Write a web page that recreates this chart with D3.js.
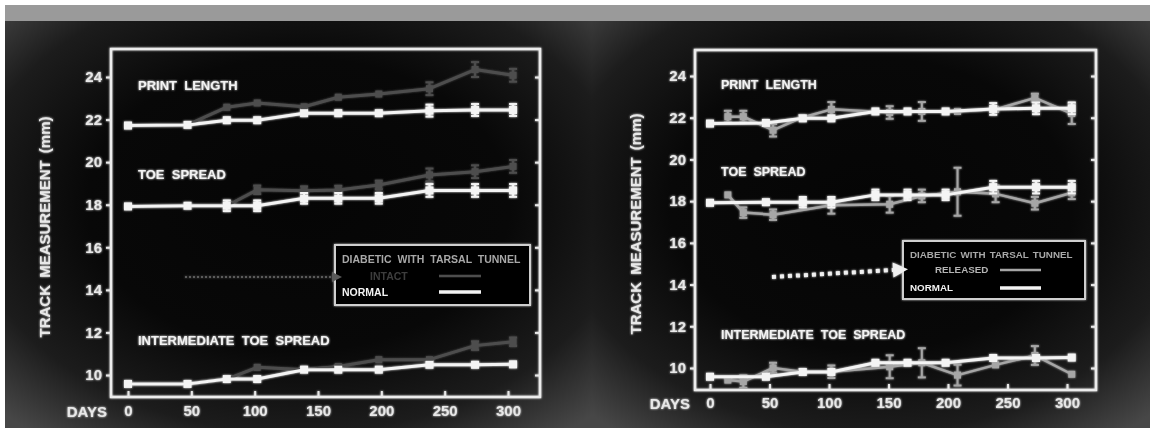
<!DOCTYPE html>
<html>
<head>
<meta charset="utf-8">
<script src="https://cdn.jsdelivr.net/npm/d3@7/dist/d3.min.js"></script>
<style>
  html, body { margin: 0; padding: 0; background: #ffffff; }
  svg { display: block; font-family: "Liberation Sans", Arial, sans-serif; font-weight: bold; }
</style>
</head>
<body>
<div id="chart"></div>
<script>
// ---- data ----
const yTicks = [10, 12, 14, 16, 18, 20, 22, 24];
const xTicks = [0, 50, 100, 150, 200, 250, 300];

// normal animals (same set on both slides)
const normalDays = [0, 47, 78, 102, 139, 166, 198, 238, 274, 304];
const normalPrintLength = [21.72, 21.75, 21.97, 21.97, 22.3, 22.3, 22.3, 22.42, 22.45, 22.45];
const normalPrintLengthErr = [0, 0, 0, 0, 0, 0, 0, 0.28, 0.28, 0.28];
const normalToeSpread = [17.92, 17.95, 17.95, 17.95, 18.3, 18.3, 18.3, 18.67, 18.67, 18.67];
const normalToeSpreadErr = [0, 0, 0.25, 0.25, 0.25, 0.25, 0.25, 0.3, 0.3, 0.3];
const normalInterToe = [9.58, 9.58, 9.81, 9.81, 10.25, 10.25, 10.25, 10.48, 10.48, 10.5];
const normalInterToeErr = [0, 0, 0, 0, 0, 0, 0, 0, 0, 0];

// diabetic, tarsal tunnel intact (left slide)
const intactDays = [0, 47, 78, 102, 139, 166, 198, 238, 274, 304];
const intactPrintLength = [21.72, 21.75, 22.58, 22.78, 22.6, 23.05, 23.2, 23.45, 24.35, 24.08];
const intactPrintLengthErr = [0, 0, 0, 0, 0, 0, 0, 0.3, 0.35, 0.3];
const intactToeSpread = [17.92, 17.95, 17.95, 18.7, 18.66, 18.69, 18.93, 19.4, 19.55, 19.8];
const intactToeSpreadErr = [0, 0, 0, 0.2, 0.2, 0.2, 0.2, 0.3, 0.3, 0.3];
const intactInterToe = [9.58, 9.58, 9.81, 10.36, 10.25, 10.4, 10.72, 10.72, 11.38, 11.56];
const intactInterToeErr = [0, 0, 0, 0, 0, 0, 0, 0, 0.2, 0.2];

// diabetic, tarsal tunnel released (right slide)
const releasedDays = [15, 28, 53, 77, 102, 151, 178, 208, 240, 273, 304];
const releasedPrintLength = [22.05, 22.05, 21.4, 22.0, 22.4, 22.25, 22.3, 22.3, 22.4, 22.95, 22.2];
const releasedPrintLengthErr = [0.28, 0.28, 0.3, 0, 0.35, 0.3, 0.45, 0, 0, 0.2, 0.5];
const releasedToeDays = [15, 28, 53, 102, 151, 178, 208, 240, 273, 304];
const releasedToeSpread = [18.3, 17.45, 17.35, 17.8, 17.85, 18.25, 18.45, 18.35, 17.9, 18.4];
const releasedToeSpreadErr = [0, 0.25, 0.25, 0.4, 0.4, 0.3, 1.15, 0.4, 0.3, 0.3];
const releasedInterToe = [9.42, 9.35, 10.0, 9.82, 9.82, 10.06, 10.25, 9.66, 10.15, 10.6, 9.7];
const releasedInterToeErr = [0, 0.3, 0.25, 0, 0.3, 0.55, 0.7, 0.5, 0, 0.45, 0];

const measureLabels = ['PRINT  LENGTH', 'TOE  SPREAD', 'INTERMEDIATE  TOE  SPREAD'];
const measureLabelY = [23.6, 19.4, 11.6];

const zip = (days, vals, errs) => days.map((d, i) => ({day: d, v: vals[i], e: errs[i]}));

const W = 1156, H = 432;
const svg = d3.select('#chart').append('svg').attr('width', W).attr('height', H);
const defs = svg.append('defs');

const glow = defs.append('filter').attr('id', 'glow')
  .attr('x', '-10%').attr('y', '-10%').attr('width', '120%').attr('height', '120%');
glow.append('feGaussianBlur').attr('in', 'SourceGraphic').attr('stdDeviation', 1.3).attr('result', 'b');
const gm = glow.append('feMerge');
gm.append('feMergeNode').attr('in', 'b');
gm.append('feMergeNode').attr('in', 'SourceGraphic');

const vig = defs.append('radialGradient').attr('id', 'vignette')
  .attr('cx', '50%').attr('cy', '45%').attr('r', '72%');
[[0, '#050505'], [0.5, '#080808'], [0.78, '#1c1c1c'], [1, '#474747']]
  .forEach(s => vig.append('stop').attr('offset', s[0]).attr('stop-color', s[1]));

// slide frame: white page, grey strip on top
svg.append('rect').attr('x', 5).attr('y', 5).attr('width', 1145).attr('height', 16).style('fill', '#9a9a9a');

function drawPanel(p) {
  const g = svg.append('g').attr('class', 'panel');
  g.append('rect').attr('x', p.bg[0]).attr('y', p.bg[1]).attr('width', p.bg[2]).attr('height', p.bg[3])
    .style('fill', 'url(#vignette)');

  const x = d3.scaleLinear().domain([0, 300]).range(p.xRange);
  const y = d3.scaleLinear().domain([10, 24]).range(p.yRange);
  const f = p.frame;
  const plot = g.append('g').style('filter', 'url(#glow)');

  plot.append('rect').attr('x', f.x0).attr('y', f.y0).attr('width', f.x1 - f.x0).attr('height', f.y1 - f.y0)
    .style('fill', 'none').style('stroke', '#ececec').style('stroke-width', 2.5);

  const yAxis = plot.append('g').attr('transform', 'translate(' + [f.x0, 0] + ')')
    .call(d3.axisLeft(y).tickValues(yTicks).tickSize(5).tickPadding(4));
  const yAxisR = plot.append('g').attr('transform', 'translate(' + [f.x1, 0] + ')')
    .call(d3.axisRight(y).tickValues(yTicks).tickSize(-5).tickFormat(''));
  const xAxis = plot.append('g').attr('transform', 'translate(' + [0, f.y1] + ')')
    .call(d3.axisBottom(x).tickValues(xTicks).tickSize(-6).tickPadding(p.xPad));
  [yAxis, yAxisR, xAxis].forEach(a => {
    a.select('.domain').remove();
    a.selectAll('line').style('stroke', '#e8e8e8').style('stroke-width', 2);
    a.selectAll('text').style('fill', '#e8e8e8').style('font-size', '15px').style('font-weight', 'bold');
  });

  plot.append('text').attr('x', p.daysX).attr('y', f.y1).attr('dy', p.xPad + 11.5)
    .attr('text-anchor', 'end').style('fill', '#e8e8e8').style('font-size', '15px').text('DAYS');

  plot.append('text')
    .attr('transform', 'translate(' + [p.titleX, p.titleY] + ') rotate(-90)')
    .attr('text-anchor', 'middle').style('fill', '#e8e8e8').style('font-size', '15px')
    .style('word-spacing', '3px').text('TRACK MEASUREMENT (mm)');

  measureLabels.forEach((t, i) => {
    plot.append('text').attr('x', p.labelX).attr('y', y(measureLabelY[i])).attr('dy', '0.35em')
      .style('fill', '#f2f2f2').style('font-size', p.labelSize + 'px').style('white-space', 'pre').text(t);
  });

  const line = d3.line().x(d => x(d.day)).y(d => y(d.v));
  function series(data, color, width, msize) {
    const s = plot.append('g');
    s.append('path').datum(data).attr('d', line)
      .style('fill', 'none').style('stroke', color).style('stroke-width', width).style('stroke-linejoin', 'round');
    const eb = s.selectAll('g.err').data(data.filter(d => d.e > 0)).enter().append('g');
    eb.append('line').attr('x1', d => x(d.day)).attr('x2', d => x(d.day))
      .attr('y1', d => y(d.v - d.e)).attr('y2', d => y(d.v + d.e));
    eb.append('line').attr('x1', d => x(d.day) - 4).attr('x2', d => x(d.day) + 4)
      .attr('y1', d => y(d.v - d.e)).attr('y2', d => y(d.v - d.e));
    eb.append('line').attr('x1', d => x(d.day) - 4).attr('x2', d => x(d.day) + 4)
      .attr('y1', d => y(d.v + d.e)).attr('y2', d => y(d.v + d.e));
    eb.selectAll('line').style('stroke', color).style('stroke-width', 2);
    s.selectAll('rect.m').data(data).enter().append('rect')
      .attr('x', d => x(d.day) - msize / 2).attr('y', d => y(d.v) - msize / 2)
      .attr('width', msize).attr('height', msize).style('fill', color);
  }
  p.grey.forEach(d => series(d, p.greyColor, p.greyWidth, 7));
  p.normal.forEach(d => series(d, '#f4f4f4', 3, 8));

  // legend
  const L = p.legend;
  const fs = L.fs + 'px';
  plot.append('rect').attr('x', L.x).attr('y', L.y).attr('width', L.w).attr('height', L.h)
    .style('fill', '#000').style('stroke', '#cfcfcf').style('stroke-width', 2);
  plot.append('text').attr('x', L.x + 7).attr('y', L.y + 14).attr('dy', '0.35em')
    .style('fill', '#a8a8a8').style('font-size', fs).style('word-spacing', L.ws + 'px')
    .text('DIABETIC WITH TARSAL TUNNEL');
  plot.append('text').attr('x', L.subX).attr('y', L.y + L.row1).attr('dy', '0.35em')
    .style('fill', p.greyText).style('font-size', fs).text(L.sub);
  plot.append('text').attr('x', L.x + 7).attr('y', L.y + L.row2).attr('dy', '0.35em')
    .style('fill', '#f2f2f2').style('font-size', fs).text('NORMAL');
  plot.append('line').attr('x1', L.lx0).attr('x2', L.lx1).attr('y1', L.y + L.row1).attr('y2', L.y + L.row1)
    .style('stroke', p.greyColor).style('stroke-width', 2.5);
  plot.append('line').attr('x1', L.lx0).attr('x2', L.lx1).attr('y1', L.y + L.row2).attr('y2', L.y + L.row2)
    .style('stroke', '#f4f4f4').style('stroke-width', 3.5);

  // dotted pointer arrow
  const A = p.arrow;
  plot.append('line').attr('x1', A.x0).attr('y1', A.y0).attr('x2', A.x1).attr('y2', A.y1)
    .style('stroke', A.color).style('stroke-width', A.w).style('stroke-dasharray', A.dash);
  const ang = Math.atan2(A.y1 - A.y0, A.x1 - A.x0);
  const hx = A.x1 + Math.cos(ang) * A.head, hy = A.y1 + Math.sin(ang) * A.head;
  const nx = -Math.sin(ang) * A.head * 0.5, ny = Math.cos(ang) * A.head * 0.5;
  plot.append('path').attr('d', 'M' + [A.x1 + nx, A.y1 + ny] + 'L' + [hx, hy] + 'L' + [A.x1 - nx, A.y1 - ny] + 'Z')
    .style('fill', A.color);
}

drawPanel({
  bg: [5, 21, 587, 407],
  frame: {x0: 111, x1: 540, y0: 49, y1: 397},
  xRange: [128, 508], yRange: [375, 77], xPad: 8,
  daysX: 107, titleX: 50, titleY: 227,
  labelX: 138, labelSize: 13,
  greyColor: '#4e4e4e', greyWidth: 3, greyText: '#3e3e3e',
  grey: [zip(intactDays, intactPrintLength, intactPrintLengthErr),
         zip(intactDays, intactToeSpread, intactToeSpreadErr),
         zip(intactDays, intactInterToe, intactInterToeErr)],
  normal: [zip(normalDays, normalPrintLength, normalPrintLengthErr),
           zip(normalDays, normalToeSpread, normalToeSpreadErr),
           zip(normalDays, normalInterToe, normalInterToeErr)],
  legend: {x: 335, y: 245, w: 195, h: 60, row1: 31, row2: 47, sub: 'INTACT', subX: 370, lx0: 439, lx1: 481, fs: 10.5, ws: 3},
  arrow: {x0: 185, y0: 277, x1: 332, y1: 277, color: '#5a5a5a', w: 2, dash: '2,2', head: 10}
});

drawPanel({
  bg: [592, 21, 558, 407],
  frame: {x0: 695, x1: 1096, y0: 50, y1: 390},
  xRange: [710, 1067], yRange: [368, 76], xPad: 7,
  daysX: 690, titleX: 641, titleY: 224,
  labelX: 721, labelSize: 12.5,
  greyColor: '#a6a6a6', greyWidth: 2.5, greyText: '#b4b4b4',
  grey: [zip(releasedDays, releasedPrintLength, releasedPrintLengthErr),
         zip(releasedToeDays, releasedToeSpread, releasedToeSpreadErr),
         zip(releasedDays, releasedInterToe, releasedInterToeErr)],
  normal: [zip(normalDays, normalPrintLength, normalPrintLengthErr),
           zip(normalDays, normalToeSpread, normalToeSpreadErr),
           zip(normalDays, normalInterToe, normalInterToeErr)],
  legend: {x: 903, y: 241, w: 182, h: 58, row1: 29, row2: 47, sub: 'RELEASED', subX: 935, lx0: 1000, lx1: 1041, fs: 9.8, ws: 1.5},
  arrow: {x0: 772, y0: 277, x1: 893, y1: 270, color: '#f0f0f0', w: 4, dash: '4,4', head: 15}
});
</script>
</body>
</html>
